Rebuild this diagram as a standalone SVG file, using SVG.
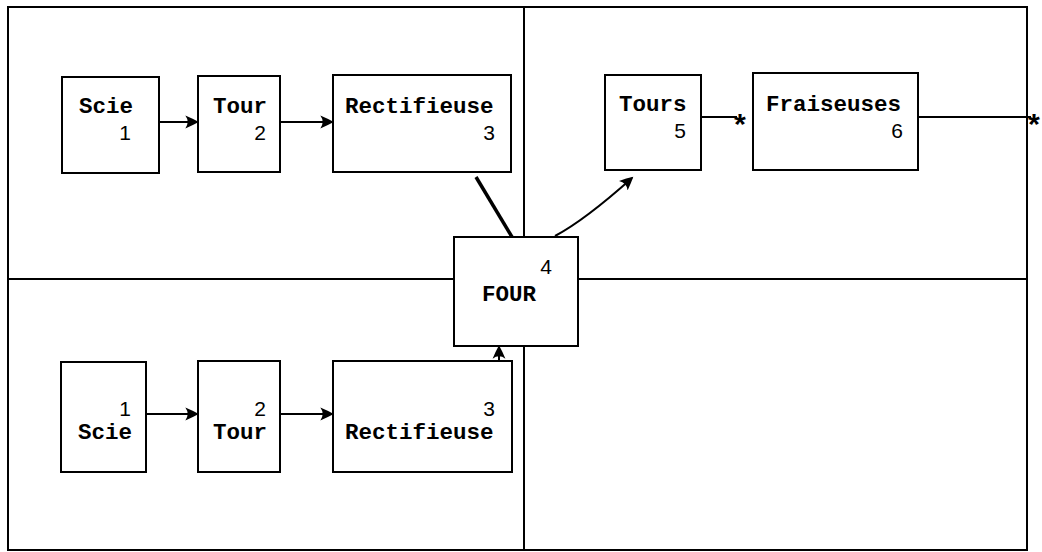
<svg xmlns="http://www.w3.org/2000/svg" width="1042" height="552" viewBox="0 0 1042 552">
<style>
.box{fill:#fff;stroke:#000;stroke-width:2}
.frame{fill:none;stroke:#000;stroke-width:2}
.lbl{font-family:"Liberation Mono",monospace;font-weight:bold;font-size:22.5px;fill:#000}
.num{font-family:"Liberation Sans",Arial,sans-serif;font-size:21px;fill:#000}
.ast{font-family:"Liberation Mono",monospace;font-weight:bold;font-size:30px;fill:#000}
.con{fill:none;stroke:#000;stroke-width:2}
.thick{fill:none;stroke:#000;stroke-width:3.5}
</style>
<defs>
<marker id="ah" viewBox="0 0 12 12" refX="10" refY="6" markerWidth="14" markerHeight="14" markerUnits="userSpaceOnUse" orient="auto">
<path d="M0,0.5 Q6,3 11.5,6 Q6,9 0,11.5 Q4,6 0,0.5 z" fill="#000"/>
</marker>
</defs>
<rect width="1042" height="552" fill="#fff"/>
<g id="frame">
<rect class="frame" x="8" y="7" width="1019" height="543"/>
<line class="frame" x1="8" y1="279" x2="455" y2="279"/>
<line class="frame" x1="578" y1="279" x2="1027" y2="279"/>
<line class="frame" x1="524" y1="7" x2="524" y2="237"/>
<line class="frame" x1="524" y1="346" x2="524" y2="550"/>
</g>
<g id="connectors">
<line class="con" x1="159" y1="122" x2="197" y2="122" marker-end="url(#ah)"/>
<line class="con" x1="280" y1="122" x2="332" y2="122" marker-end="url(#ah)"/>
<line class="thick" x1="476" y1="177" x2="512" y2="237"/>
<path class="con" d="M555,236 Q585,220 632,178" stroke-width="2.5" marker-end="url(#ah)"/>
<line class="con" x1="701" y1="117" x2="737" y2="117"/>
<text class="ast" x="731" y="136">*</text>
<line class="con" x1="918" y1="117" x2="1031" y2="117"/>
<text class="ast" x="1025" y="136">*</text>
<line class="con" x1="146" y1="414" x2="197" y2="414" marker-end="url(#ah)"/>
<line class="con" x1="280" y1="414" x2="332" y2="414" marker-end="url(#ah)"/>
<line class="con" x1="499" y1="362" x2="499" y2="347" marker-end="url(#ah)"/>
</g>
<g id="n1a"><rect class="box" x="62" y="77" width="97" height="96"/><text class="lbl" x="79" y="113">Scie</text><text class="num" x="131" y="140" text-anchor="end">1</text></g>
<g id="n2a"><rect class="box" x="198" y="76" width="82" height="96"/><text class="lbl" x="213" y="113">Tour</text><text class="num" x="266" y="140" text-anchor="end">2</text></g>
<g id="n3a"><rect class="box" x="333" y="75" width="178" height="97"/><text class="lbl" x="345" y="113">Rectifieuse</text><text class="num" x="495" y="140" text-anchor="end">3</text></g>
<g id="n4"><rect class="box" x="454" y="237" width="124" height="109"/><text class="lbl" x="482" y="301">FOUR</text><text class="num" x="552" y="274" text-anchor="end">4</text></g>
<g id="n5"><rect class="box" x="605" y="75" width="96" height="95"/><text class="lbl" x="619" y="111">Tours</text><text class="num" x="686" y="138" text-anchor="end">5</text></g>
<g id="n6"><rect class="box" x="753" y="73" width="165" height="97"/><text class="lbl" x="766" y="111">Fraiseuses</text><text class="num" x="903" y="138" text-anchor="end">6</text></g>
<g id="n1b"><rect class="box" x="61" y="362" width="85" height="110"/><text class="num" x="131" y="416" text-anchor="end">1</text><text class="lbl" x="78" y="439">Scie</text></g>
<g id="n2b"><rect class="box" x="198" y="361" width="82" height="111"/><text class="num" x="266" y="416" text-anchor="end">2</text><text class="lbl" x="213" y="439">Tour</text></g>
<g id="n3b"><rect class="box" x="333" y="361" width="179" height="111"/><text class="num" x="495" y="416" text-anchor="end">3</text><text class="lbl" x="345" y="439">Rectifieuse</text></g>
</svg>
